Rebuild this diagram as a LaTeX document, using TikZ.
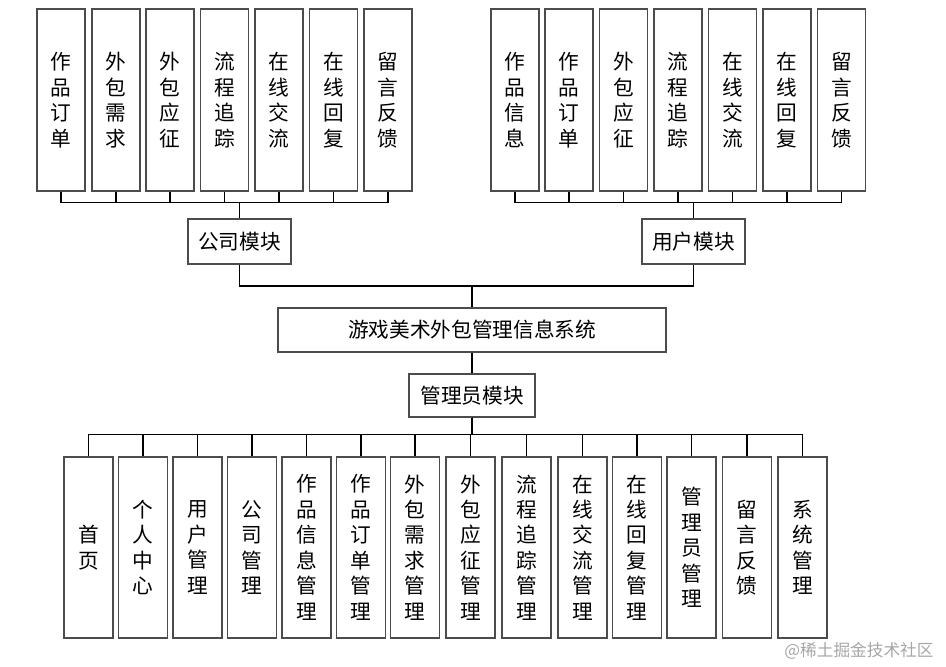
\documentclass[tikz,border=0pt]{standalone}
\usepackage{fontspec}
\newfontfamily\cjk{Noto Sans CJK SC}
\begin{document}
\begin{tikzpicture}[x=0.75pt,y=-0.75pt,
  bx/.style={draw=black!70,line width=0.8pt,fill=white,inner sep=0pt,
    font=\cjk\fontsize{15.5}{19.1}\selectfont,align=center},
  tall/.style={bx,minimum width=36pt,minimum height=136.5pt},
  low/.style={bx,minimum width=36.75pt,minimum height=135.75pt},
  conn/.style={line width=1.1pt,black}]
\useasboundingbox (0,0) rectangle (946,667);
% top-left group (company)
\foreach \n/\x/\t in {a1/61/作\\品\\订\\单, a2/116/外\\包\\需\\求, a3/170/外\\包\\应\\征, a4/224.5/流\\程\\追\\踪, a5/279/在\\线\\交\\流, a6/333.5/在\\线\\回\\复, a7/388/留\\言\\反\\馈}
  \node[tall] (\n) at (\x,100) {\t};
% top-right group (user)
\foreach \n/\x/\t in {u1/515/作\\品\\信\\息, u2/569/作\\品\\订\\单, u3/623.5/外\\包\\应\\征, u4/678/流\\程\\追\\踪, u5/732.5/在\\线\\交\\流, u6/787/在\\线\\回\\复, u7/841.5/留\\言\\反\\馈}
  \node[tall] (\n) at (\x,100) {\t};
% modules
\node[bx,minimum width=77.25pt,minimum height=33.75pt] (cm) at (239.5,241.5) {公司模块};
\node[bx,minimum width=77.25pt,minimum height=33.75pt] (um) at (693.5,241.5) {用户模块};
\node[bx,minimum width=291pt,minimum height=33pt] (sys) at (472,330) {游戏美术外包管理信息系统};
\node[bx,minimum width=94.5pt,minimum height=32.25pt] (adm) at (472,395.5) {管理员模块};
% bottom group (admin)
\foreach \n/\x/\t in {b1/88.5/首\\页, b2/143/个\\人\\中\\心, b3/197.5/用\\户\\管\\理, b4/252/公\\司\\管\\理, b5/306.5/作\\品\\信\\息\\管\\理, b6/361/作\\品\\订\\单\\管\\理, b7/415/外\\包\\需\\求\\管\\理, b8/470.5/外\\包\\应\\征\\管\\理, b9/526.5/流\\程\\追\\踪\\管\\理, b10/582.5/在\\线\\交\\流\\管\\理, b11/637/在\\线\\回\\复\\管\\理, b12/691.5/管\\理\\员\\管\\理, b13/747/留\\言\\反\\馈, b14/802.5/系\\统\\管\\理}
  \node[low] (\n) at (\x,547.5) {\t};
% connectors
\foreach \n in {a1,a2,a3,a4,a5,a6,a7}
  \draw[conn] (\n.south) -- ++(0,11) -| (cm.north);
\foreach \n in {u1,u2,u3,u4,u5,u6,u7}
  \draw[conn] (\n.south) -- ++(0,11) -| (um.north);
\coordinate (j) at (472,286);
\draw[conn] (cm.south) |- (j);
\draw[conn] (um.south) |- (j);
\draw[conn] (j) -- (sys.north);
\draw[conn] (sys.south) -- (adm.north);
\foreach \n in {b1,b2,b3,b4,b5,b6,b7,b8,b9,b10,b11,b12,b13,b14}
  \draw[conn] (adm.south) -- ++(0,17) -| (\n.north);
% watermark
\node[font=\cjk\fontsize{12.5}{14}\selectfont,text=black!35,inner sep=0pt] (wm) at (859,651) {@稀土掘金技术社区};
\end{tikzpicture}
\end{document}
